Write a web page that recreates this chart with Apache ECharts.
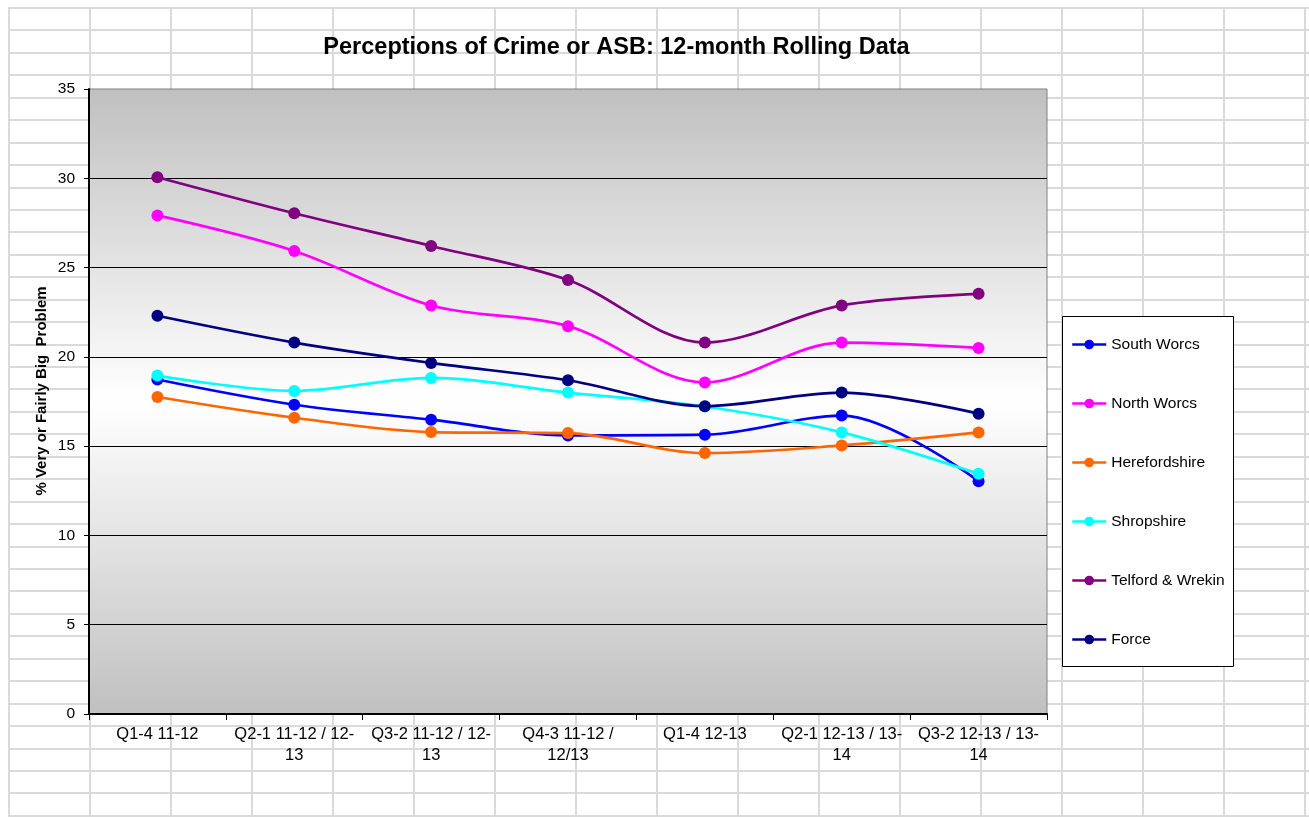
<!DOCTYPE html>
<html>
<head>
<meta charset="utf-8">
<script src="https://cdn.jsdelivr.net/npm/echarts@6/dist/echarts.min.js"></script>
<style>
  html, body { margin: 0; padding: 0; background: #fff; }
  #wrap { position: relative; width: 1309px; height: 817px; overflow: hidden; background: #fff; }
  #sheet {
    position: absolute; left: 8px; top: 7px; width: 1301px; height: 810px;
    background-image:
      repeating-linear-gradient(to right, #dadada 0px, #dadada 2px, transparent 2px, transparent 81px),
      repeating-linear-gradient(to bottom, #dadada 0px, #dadada 2px, transparent 2px, transparent 22.44px);
  }
  #chart { position: absolute; left: 0; top: 0; width: 1309px; height: 817px; }
</style>
</head>
<body>
<div id="wrap">
  <div id="sheet"></div>
  <div id="chart"></div>
</div>
<script>
// ---- data ----
var titleText = 'Perceptions of Crime or ASB: 12-month Rolling Data';
var yAxisTitle = '% Very or Fairly Big  Problem';
var categories = [
  'Q1-4 11-12',
  'Q2-1 11-12 / 12-13',
  'Q3-2 11-12 / 12-13',
  'Q4-3 11-12 / 12/13',
  'Q1-4 12-13',
  'Q2-1 12-13 / 13-14',
  'Q3-2 12-13 / 13-14'
];
var tickLabels = [
  'Q1-4 11-12',
  'Q2-1 11-12 / 12-\n13',
  'Q3-2 11-12 / 12-\n13',
  'Q4-3 11-12 /\n12/13',
  'Q1-4 12-13',
  'Q2-1 12-13 / 13-\n14',
  'Q3-2 12-13 / 13-\n14'
];
var seriesNames = ['South Worcs', 'North Worcs', 'Herefordshire', 'Shropshire', 'Telford & Wrekin', 'Force'];
var southWorcs   = [18.73, 17.32, 16.48, 15.60, 15.64, 16.71, 13.04];
var northWorcs   = [27.92, 25.93, 22.88, 21.72, 18.57, 20.80, 20.50];
var herefordshire= [17.75, 16.59, 15.79, 15.73, 14.61, 15.04, 15.77];
var shropshire   = [18.95, 18.09, 18.82, 18.00, 17.22, 15.77, 13.45];
var telford      = [30.06, 28.04, 26.21, 24.30, 20.80, 22.88, 23.53];
var force        = [22.30, 20.80, 19.66, 18.69, 17.24, 18.00, 16.82];
var seriesColors = ['#0000ff', '#ff00ff', '#ff6600', '#00ffff', '#800080', '#000080'];

var FONT = '"Liberation Sans", Arial, sans-serif';
var allData = [southWorcs, northWorcs, herefordshire, shropshire, telford, force];

var chart = echarts.init(document.getElementById('chart'), null, { renderer: 'canvas' });

var series = seriesNames.map(function (name, i) {
  return {
    name: name,
    type: 'line',
    data: allData[i],
    smooth: 0.33,
    symbol: 'circle',
    symbolSize: 12,
    showSymbol: true,
    lineStyle: { color: seriesColors[i], width: 2.7 },
    itemStyle: { color: seriesColors[i] },
    emphasis: { disabled: true },
    z: 3 + i
  };
});

chart.setOption({
  animation: false,
  textStyle: { fontFamily: FONT },
  grid: {
    left: 89, top: 89, right: 262, bottom: 103,
    show: true,
    borderColor: '#808080',
    borderWidth: 1,
    backgroundColor: {
      type: 'linear', x: 0, y: 0, x2: 0, y2: 1,
      colorStops: [
        { offset: 0, color: '#c0c0c0' },
        { offset: 0.5, color: '#ffffff' },
        { offset: 1, color: '#c0c0c0' }
      ]
    }
  },
  xAxis: {
    type: 'category',
    data: categories,
    boundaryGap: true,
    axisLine: { show: true, lineStyle: { color: '#000', width: 2 } },
    axisTick: { show: true, interval: 0, length: 6, inside: false, lineStyle: { color: '#000', width: 1 } },
    axisLabel: {
      interval: 0,
      margin: 10,
      color: '#000',
      fontSize: 16.5,
      lineHeight: 21,
      fontFamily: FONT,
      formatter: function (v, idx) { return tickLabels[idx]; }
    },
    splitLine: { show: false }
  },
  yAxis: {
    type: 'value',
    min: 0, max: 35, interval: 5,
    axisLine: { show: true, lineStyle: { color: '#000', width: 2 } },
    axisTick: { show: true, length: 5, inside: false, lineStyle: { color: '#000', width: 1 } },
    axisLabel: { margin: 14, color: '#000', fontSize: 15.5, fontFamily: FONT },
    splitLine: { show: true, showMinLine: false, showMaxLine: false, lineStyle: { color: '#000', width: 1 } }
  },
  legend: {
    orient: 'vertical',
    left: 1071, top: 336.5,
    padding: 0,
    itemWidth: 34, itemHeight: 12, itemGap: 43,
    textStyle: { color: '#000', fontSize: 15.5, fontFamily: FONT },
    lineStyle: { width: 2.5 },
    data: seriesNames,
    z: 10
  },
  graphic: [
    {
      type: 'rect', z: 5,
      shape: { x: 1062.5, y: 316.5, width: 171, height: 350 },
      style: { fill: '#ffffff', stroke: '#000', lineWidth: 1 }
    },
    {
      type: 'text', z: 5,
      x: 616.5, y: 47.5,
      style: { text: titleText, font: 'bold 23.5px ' + FONT, fill: '#000', textAlign: 'center', textVerticalAlign: 'middle' }
    },
    {
      type: 'text', z: 5,
      x: 42, y: 391, rotation: Math.PI / 2,
      style: { text: yAxisTitle, font: 'bold 15px ' + FONT, fill: '#000', textAlign: 'center', textVerticalAlign: 'middle' }
    }
  ],
  series: series
});
</script>
</body>
</html>
